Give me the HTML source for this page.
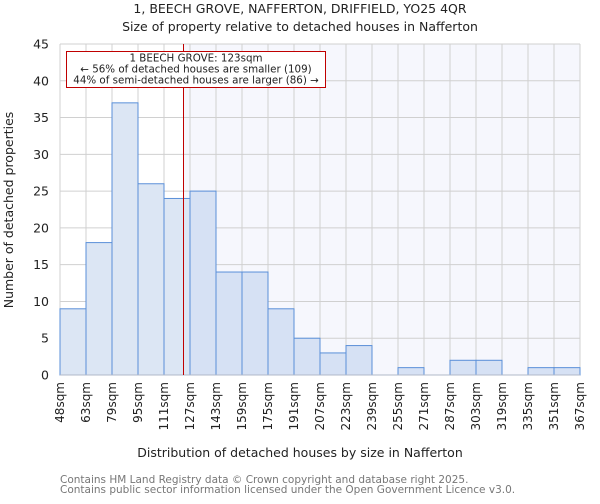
<!DOCTYPE html>
<html><head><meta charset="utf-8"><style>
body{margin:0;background:#fff;font-family:"DejaVu Sans","Liberation Sans",sans-serif}
svg text{font-family:"DejaVu Sans","Liberation Sans",sans-serif;fill:#222}
</style></head><body>
<svg id="c" width="600" height="500" xmlns="http://www.w3.org/2000/svg">
<text x="300" y="13" text-anchor="middle" font-size="12.5">1, BEECH GROVE, NAFFERTON, DRIFFIELD, YO25 4QR</text>
<text x="300" y="31" text-anchor="middle" font-size="12.5">Size of property relative to detached houses in Nafferton</text>
<g id="plot"></g>
<text x="300" y="457" text-anchor="middle" font-size="12.5">Distribution of detached houses by size in Nafferton</text>
<text transform="translate(13,210) rotate(-90)" text-anchor="middle" font-size="12.5">Number of detached properties</text>
<text x="60" y="483" font-size="10.5" style="fill:#777">Contains HM Land Registry data © Crown copyright and database right 2025.</text>
<text x="60" y="493" font-size="10.5" style="fill:#777">Contains public sector information licensed under the Open Government Licence v3.0.</text>
</svg>
<script>
const tickLabels=["48sqm","63sqm","79sqm","95sqm","111sqm","127sqm","143sqm","159sqm","175sqm","191sqm","207sqm","223sqm","239sqm","255sqm","271sqm","287sqm","303sqm","319sqm","335sqm","351sqm","367sqm"];
const binEdges=[48,63,79,95,111,127,143,159,175,191,207,223,239,255,271,287,303,319,335,351,367];
const counts=[9,18,37,26,24,25,14,14,9,5,3,4,0,1,0,2,2,0,1,1];
const yTicks=[0,5,10,15,20,25,30,35,40,45];
const subjectSize=123;
const X0=60,X1=580,Y0=375,Y1=44,YMAX=45;
const nb=counts.length,bw=(X1-X0)/nb;
function xIdx(i){return X0+i*bw;}
function xVal(v){let i=0;while(i<binEdges.length-2&&v>binEdges[i+1])i++;return xIdx(i)+bw*(v-binEdges[i])/(binEdges[i+1]-binEdges[i]);}
function y(v){return Y0-(v/YMAX)*(Y0-Y1);}
const NS="http://www.w3.org/2000/svg",g=document.getElementById('plot');
function mk(t,a,p){const e=document.createElementNS(NS,t);for(const k in a)e.setAttribute(k,a[k]);(p||g).appendChild(e);return e;}
const sx=xVal(subjectSize);
let bg=mk('rect',{x:X0,y:Y1,width:X1-X0,height:Y0-Y1,fill:'#fff'});


mk('rect',{x:sx,y:Y1,width:X1-sx,height:Y0-Y1,fill:'#f6f7fd'});
for(let i=0;i<tickLabels.length;i++){const x=xIdx(i);
 let l=mk('line',{x1:x,x2:x,y1:Y1,y2:Y0,stroke:'#d0d0d0','stroke-width':1});
 
 
 let t=mk('text',{transform:`translate(${x+4},${Y0+7}) rotate(-90)`,'text-anchor':'end','font-size':12});
 t.textContent=tickLabels[i];
 
 }
yTicks.forEach(v=>{const yy=y(v);
 let l=mk('line',{x1:X0,x2:X1,y1:yy,y2:yy,stroke:'#d0d0d0','stroke-width':1});
 
 
 let t=mk('text',{x:X0-11,y:yy+4.5,'text-anchor':'end','font-size':12.5});
 t.textContent=v;
 
 });
counts.forEach((c,i)=>{if(c<=0)return;
 const x=xIdx(i);
 let r=mk('rect',{x:x,y:y(c),width:bw,height:Y0-y(c),fill:x>=sx?'#d6e1f4':'#dce6f4',stroke:'#5a8fd8','stroke-width':1});
 
 });
let ax=mk('line',{x1:X0,x2:X1,y1:Y0,y2:Y0,stroke:'#b0b8c8','stroke-width':1});


let ml=mk('line',{x1:sx,x2:sx,y1:Y1,y2:Y0,stroke:'#c00000','stroke-width':1});


let ag=mk('g',{});


mk('rect',{x:66.5,y:51.5,width:259,height:36,fill:'#fff',stroke:'#c00000','stroke-width':1},ag);
["1 BEECH GROVE: 123sqm","← 56% of detached houses are smaller (109)","44% of semi-detached houses are larger (86) →"].forEach((s,i)=>{
 let t=mk('text',{x:196,y:61.5+i*11,'text-anchor':'middle','font-size':10.3},ag);t.textContent=s;
 
 });
</script>
</body></html>
